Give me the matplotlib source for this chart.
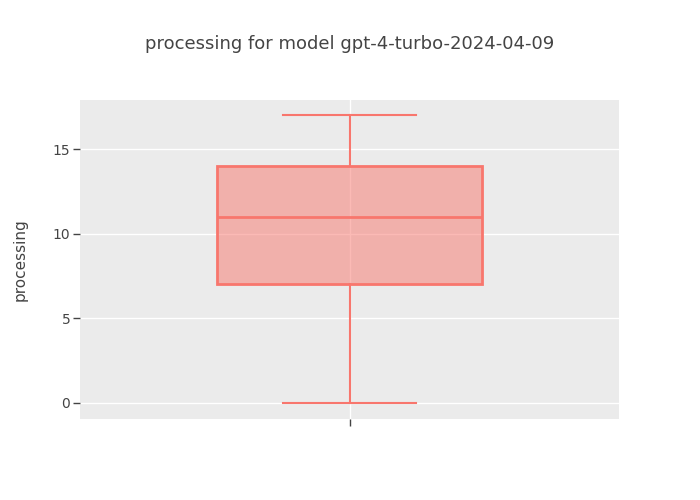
import matplotlib
matplotlib.use("Agg")
import matplotlib.pyplot as plt

title = "processing for model gpt-4-turbo-2024-04-09"
ylabel = "processing"
stat_min = 0
stat_q1 = 7
stat_med = 11
stat_q3 = 14
stat_max = 17
yticks = [0, 5, 10, 15]

color = "#F8766D"

fig = plt.figure(figsize=(7, 5), dpi=100)
ax = fig.add_axes([0.1143, 0.162, 0.77, 0.638])
ax.set_facecolor("#EBEBEB")

stats = [dict(med=stat_med, q1=stat_q1, q3=stat_q3, whislo=stat_min, whishi=stat_max, fliers=[])]
ax.bxp(stats, positions=[0], widths=0.98, patch_artist=True, showfliers=False, zorder=3,
       boxprops=dict(facecolor=(0.973, 0.463, 0.427, 0.5), edgecolor=color, linewidth=2),
       medianprops=dict(color=color, linewidth=2),
       whiskerprops=dict(color=color, linewidth=1.5),
       capprops=dict(color=color, linewidth=1.5),
       capwidths=0.49)

ax.set_xlim(-1, 1)
ax.set_ylim(-0.95, 17.9)
ax.set_yticks(yticks)
ax.set_xticks([0])
ax.set_xticklabels([""])
ax.grid(True, color="white", linewidth=1, zorder=0)
ax.set_axisbelow(True)
for s in ax.spines.values():
    s.set_visible(False)
ax.tick_params(axis="both", colors="#444444", labelsize=10, length=5, width=1)
ax.tick_params(axis="y", pad=2)
ax.set_ylabel(ylabel, fontsize=11, color="#444444", labelpad=18)
fig.text(0.5, 0.912, title, ha="center", va="center", fontsize=13, color="#444444")

fig.savefig("out.png", dpi=100)
